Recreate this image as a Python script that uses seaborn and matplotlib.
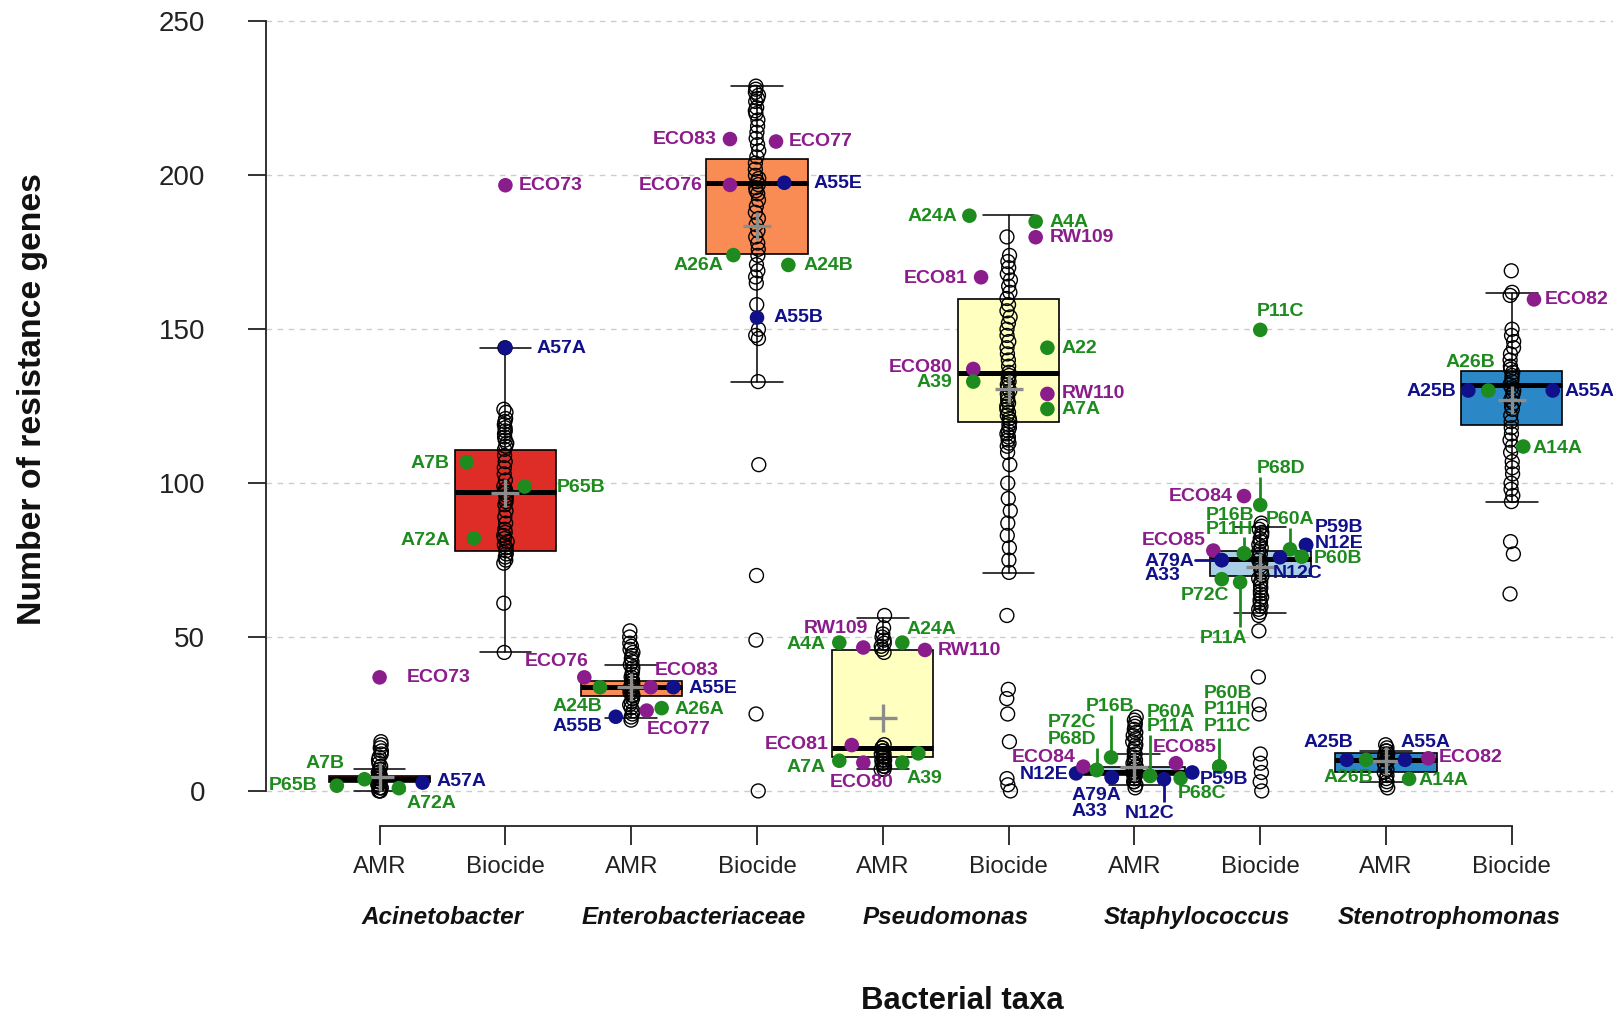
import numpy as np
import pandas as pd
import matplotlib
matplotlib.use("Agg")
import matplotlib.pyplot as plt
import seaborn as sns
from matplotlib.transforms import blended_transform_factory

# ---------------- data ----------------
taxa = ["Acinetobacter", "Enterobacteriaceae", "Pseudomonas", "Staphylococcus", "Stenotrophomonas"]
gene_sets = ["AMR", "Biocide"]
groups = [f"{t} {g}" for t in taxa for g in gene_sets]

box_q1 = [3, 78, 30.9, 174.5, 11.1, 120, 5.2, 69.9, 6.3, 118.9]
box_median = [4, 97, 33.7, 197.4, 14.1, 135.9, 6.0, 75.3, 10.1, 131.9]
box_q3 = [5, 110.9, 35.8, 205.4, 45.8, 159.8, 7.7, 77.8, 12.2, 136.5]
whisker_low = [0, 45.3, 23.8, 133, 7, 70.9, 2, 57.9, 3, 94]
whisker_high = [7, 144, 40.9, 229, 56.1, 187.1, 12, 85.9, 13, 161.9]
group_mean = [4.6, 96.7, 33.9, 183.7, 23.6, 130.6, 7.7, 72.9, 9.7, 127]

acin_amr = [0, 0, 0, 1, 1, 1, 2, 2, 2, 3, 3, 3, 3, 4, 4, 4, 4, 4, 5, 5, 5, 5, 6, 6, 7, 8, 9, 10, 11, 12, 13, 14, 15, 16]
acin_bio = [144, 124, 123, 121, 120, 119, 118, 117, 116, 115, 114, 113, 112, 111, 109, 107, 105, 103, 101, 99, 98,
            97, 97, 96, 95, 94, 93, 91, 89, 87, 85, 84, 83, 82, 81, 80, 79, 78, 77, 76, 75, 74, 61, 45]
entero_amr = [52, 50, 48, 47, 46, 45, 44, 43, 42, 41, 40, 39, 38, 37, 36, 36, 35, 35, 34, 34, 33, 33, 32, 32,
              31, 31, 30, 29, 28, 27, 26, 25, 24, 23]
entero_bio = [229, 228, 227, 226, 225, 224, 222, 221, 220, 218, 216, 214, 212, 210, 208, 206, 204, 202, 200, 199,
              198, 197, 196, 195, 194, 192, 190, 188, 186, 184, 182, 180, 178, 176, 174, 171, 169, 167, 165, 158,
              150, 148, 147, 133, 106, 70, 49, 25, 0]
pseudo_amr = [57, 53, 51, 50, 49, 48, 47, 46, 45, 15, 14, 14, 13, 13, 12, 12, 11, 11, 10, 10, 9, 9, 8, 8, 7, 7]
pseudo_bio = [180, 174, 172, 170, 168, 166, 164, 162, 160, 158, 156, 154, 152, 150, 148, 146, 144, 142, 140, 138,
              136, 135, 134, 133, 132, 131, 130, 129, 128, 127, 126, 125, 124, 123, 122, 121, 120, 119, 118, 117,
              116, 115, 114, 113, 112, 110, 106, 100, 95, 91, 87, 83, 79, 75, 71, 57, 33, 30, 25, 16, 4, 2, 0]
staph_amr = [24, 23, 22, 21, 20, 19, 18, 17, 16, 15, 14, 13, 12, 11, 10, 9, 9, 8, 8, 7, 7, 6, 6, 6, 5, 5, 5,
             4, 4, 3, 3, 2, 1]
staph_bio = [87, 86, 85, 84, 83, 82, 81, 80, 79, 78, 77, 76, 75, 74, 73, 72, 71, 70, 69, 68, 67, 66, 65, 64,
             63, 62, 61, 60, 59, 58, 57, 52, 37, 28, 25, 12, 9, 6, 3, 0]
steno_amr = [15, 14, 13, 13, 12, 12, 11, 11, 10, 10, 9, 8, 7, 6, 5, 4, 3, 2, 1]
steno_bio = [169, 162, 161, 150, 148, 146, 144, 142, 140, 138, 137, 136, 135, 134, 133, 132, 131, 130, 129, 128,
             127, 126, 125, 124, 122, 120, 118, 116, 114, 112, 110, 107, 105, 103, 100, 98, 96, 94, 81, 77, 64]
all_values = [acin_amr, acin_bio, entero_amr, entero_bio, pseudo_amr, pseudo_bio,
              staph_amr, staph_bio, steno_amr, steno_bio]

# highlighted genomes
iso_group = [0, 0, 0, 0, 0, 1, 1, 1, 1, 1,
             2, 2, 2, 2, 2, 2, 2, 3, 3, 3, 3, 3, 3, 3,
             4, 4, 4, 4, 4, 4, 4, 4, 4, 5, 5, 5, 5, 5, 5, 5, 5, 5,
             6, 6, 6, 6, 6, 6, 6, 6, 6, 6, 6, 6, 6, 6, 6, 6,
             7, 7, 7, 7, 7, 7, 7, 7, 7, 7, 7, 7, 7, 7, 7,
             8, 8, 8, 8, 8, 9, 9, 9, 9, 9]
iso_offset = [-0.12, -0.34, 0.153, 0.342, 0.0, 0.0, -0.308, 0.153, -0.25, 0.0,
              -0.373, -0.248, -0.123, 0.155, 0.335, 0.242, 0.123, -0.215, 0.151, -0.215, 0.217, -0.188, 0.249, 0.0,
              -0.346, -0.155, 0.155, 0.335, -0.247, -0.346, -0.155, 0.155, 0.282,
              -0.312, 0.215, 0.215, -0.219, 0.308, -0.281, -0.281, 0.308, 0.308,
              -0.464, -0.406, -0.30, -0.30, -0.186, -0.18, -0.18, 0.124, 0.124, 0.235, 0.33, 0.367, 0.46,
              0.675, 0.675, 0.675,
              0.0, 0.0, -0.129, -0.129, -0.129, -0.373, -0.306, -0.306, -0.306, -0.16, 0.237, 0.157, 0.364,
              0.364, 0.33,
              -0.312, -0.159, 0.151, 0.336, 0.183, 0.176, -0.187, -0.346, 0.325, 0.091]
iso_genes = [3.8, 1.7, 0.9, 2.7, 36.9, 144.0, 106.8, 98.9, 82.1, 196.8,
             36.9, 33.7, 24.1, 33.7, 33.7, 26.9, 26.1, 211.8, 211.0, 196.9, 197.6, 174.1, 170.9, 153.8,
             48.2, 46.6, 48.2, 45.8, 14.9, 9.8, 9.2, 9.2, 12.2,
             186.9, 185.0, 179.9, 166.9, 144.0, 137.1, 133.0, 129.0, 124.1,
             5.7, 7.9, 6.8, 6.8, 10.9, 4.4, 4.4, 4.9, 4.9, 3.8, 9.0, 4.1, 6.0, 7.9, 7.9, 7.9,
             149.8, 92.9, 95.8, 77.2, 77.2, 78.1, 75.0, 75.0, 68.8, 67.8, 78.5, 75.9, 79.9, 79.9, 76.1,
             10.1, 10.1, 10.1, 10.6, 3.9, 159.7, 130.1, 130.1, 130.1, 111.9]
iso_source = ["g", "g", "g", "b", "p", "b", "g", "g", "g", "p",
              "p", "g", "b", "p", "b", "g", "p", "p", "p", "p", "b", "g", "g", "b",
              "g", "p", "g", "p", "p", "g", "p", "g", "g",
              "g", "g", "p", "p", "g", "p", "g", "p", "g",
              "b", "p", "g", "g", "g", "b", "b", "g", "g", "b", "p", "g", "b", "g", "g", "g",
              "g", "g", "p", "g", "g", "p", "b", "b", "g", "g", "g", "b", "b", "b", "g",
              "b", "g", "b", "p", "g", "p", "g", "b", "b", "g"]
iso_name = ["A7B", "P65B", "A72A", "A57A", "ECO73", "A57A", "A7B", "P65B", "A72A", "ECO73",
            "ECO76", "A24B", "A55B", "ECO83", "A55E", "A26A", "ECO77",
            "ECO83", "ECO77", "ECO76", "A55E", "A26A", "A24B", "A55B",
            "A4A", "RW109", "A24A", "RW110", "ECO81", "A7A", "ECO80", "A39", "",
            "A24A", "A4A", "RW109", "ECO81", "A22", "ECO80", "A39", "RW110", "A7A",
            "N12E", "ECO84", "P72C", "P68D", "P16B", "A79A", "A33", "P60A", "P11A", "N12C", "ECO85",
            "P68C", "P59B", "P60B", "P11H", "P11C",
            "P11C", "P68D", "ECO84", "P16B", "P11H", "ECO85", "A79A", "A33", "P72C", "P11A", "P60A",
            "N12C", "P59B", "N12E", "P60B",
            "A25B", "A26B", "A55A", "ECO82", "A14A", "ECO82", "A26B", "A25B", "A55A", "A14A"]

# label placement (pixels, y downwards) -- style only
label_dx = [-20, -19, 8, 14, 27, 31, -17, 32, -24, 13,
            4, 2, -13, 4, 15, 13, 0, -13, 13, -27, 29, -10, 15, 16,
            -14, 5, 4, 13, -23, -14, -2, 4, 0,
            -12, 14, 14, -13, 14, -21, -21, 14, 14,
            -8, -8, 0, 0, -1, -40, -40, -3, -3, -14, -23, -3, 7, -16, -16, -16,
            -3, -3, -11, -38, -38, -8, -77, -77, -17, -17, 0, -7, 9, 9, 12,
            -18, 7, 20, 10, 9, 11, -18, -12, 12, 9]
label_dy = [-16, 0, 15, -1, 0, 1, 1, 1, 2, 0,
            -16, 19, 10, -17, 1, 1, 19, 0, 0, 1, 1, 10, 1, 0,
            2, -19, -13, 1, -1, 7, 20, 16, 0,
            1, 1, 0, 1, 1, -1, 1, 0, 1,
            1, -9, -47, -30, -51, 18, 34, -63, -49, 34, -16, 15, 7, -73, -57, -40,
            -18, -37, 0, -38, -24, -10, 1, 15, 16, 56, -30, 16, -18, -2, 2,
            -17, 18, -17, -1, 2, 0, -28, 1, 1, 2]
label_ha = ["right", "right", "left", "left", "left", "left", "right", "left", "right", "left",
            "right", "right", "right", "left", "left", "left", "left",
            "right", "left", "right", "left", "right", "left", "left",
            "right", "right", "left", "left", "right", "right", "center", "left", "left",
            "right", "left", "left", "right", "left", "right", "right", "left", "left",
            "right", "right", "right", "right", "center", "left", "left", "left", "left", "center", "left",
            "left", "left", "left", "left", "left",
            "left", "left", "right", "left", "left", "right", "left", "left", "center", "center", "center",
            "left", "left", "left", "left",
            "center", "right", "center", "left", "left", "left", "center", "right", "left", "left"]

# leader lines: group, offset, from value, to value
lead_group = [6, 6, 6, 6, 6, 7, 7, 7, 7]
lead_offset = [-0.30, -0.186, 0.124, 0.235, 0.675, 0.0, -0.129, -0.16, 0.237]
lead_from = [6.8, 10.9, 4.9, 3.8, 7.9, 92.9, 77.2, 67.8, 78.5]
lead_to = [13.9, 24.7, 18.2, -3.5, 17.1, 102.1, 82.6, 53.4, 85.3]
lead_source = ["g", "g", "g", "b", "g", "g", "g", "g", "g"]

# ---------------- style ----------------
taxon_colors = ["#DE2D26", "#F98C55", "#FFFFBF", "#A9CFE6", "#2B87C6"]
src_colors = {"p": "#8B1C8B", "g": "#1E8B1E", "b": "#10108A"}

sns.set_style("white")
plt.rcParams["font.family"] = ["Liberation Sans", "DejaVu Sans"]

fig = plt.figure(figsize=(16.13, 10.14), dpi=100)
ax = fig.add_axes([0.16491, 0.18570, 0.83509, 0.80069])

# boxes
stats = [dict(med=m, q1=a, q3=b, whislo=lo, whishi=hi, label="")
         for m, a, b, lo, hi in zip(box_median, box_q1, box_q3, whisker_low, whisker_high)]
bp = ax.bxp(stats, positions=list(range(len(groups))), widths=0.805, capwidths=0.41,
            patch_artist=True, showfliers=False, manage_ticks=False,
            boxprops=dict(edgecolor="black", linewidth=1.2),
            medianprops=dict(color="black", linewidth=3.6, solid_capstyle="butt"),
            whiskerprops=dict(color="black", linewidth=1.1),
            capprops=dict(color="black", linewidth=1.1), zorder=1.5)
for k, patch in enumerate(bp["boxes"]):
    patch.set_facecolor(taxon_colors[k // 2])

# all genomes as open circles
df = pd.DataFrame({"group": [g for g, vals in zip(groups, all_values) for _ in vals],
                   "genes": [v for vals in all_values for v in vals]})
np.random.seed(3)
n_before = len(ax.collections)
sns.stripplot(data=df, x="group", y="genes", order=groups, ax=ax, jitter=0.015,
              size=10, linewidth=1.0, edgecolor="black", color="black", zorder=2)
for coll in ax.collections[n_before:]:
    coll.set_facecolor("none")
    coll.set_edgecolor("black")
    coll.set_linewidth(1.0)
    coll.set_zorder(2)

# means
ax.scatter(range(len(groups)), group_mean, marker="+", s=400, c="#8C8C8C", linewidths=2.4, zorder=3)

# leader lines
for g, o, a, b, s in zip(lead_group, lead_offset, lead_from, lead_to, lead_source):
    ax.plot([g + o, g + o], [a, b], color=src_colors[s], lw=2.0, zorder=3.5, solid_capstyle="butt")
ax.plot([7 - 0.306, 7 - 0.52], [75.0, 75.0], color=src_colors["b"], lw=2.0, zorder=3.5)

# highlighted genomes
iso = pd.DataFrame({"x": [g + o for g, o in zip(iso_group, iso_offset)], "genes": iso_genes,
                    "source": iso_source, "name": iso_name})
sns.scatterplot(data=iso, x="x", y="genes", hue="source", palette=src_colors, s=110,
                linewidth=0, legend=False, ax=ax, zorder=4)
for x, y, s, name, dx, dy, ha in zip(iso["x"], iso_genes, iso_source, iso_name, label_dx, label_dy, label_ha):
    if name:
        ax.annotate(name, (x, y), xytext=(dx, -dy), textcoords="offset pixels", ha=ha, va="center",
                    color=src_colors[s], fontsize=14, fontweight="bold", zorder=5, annotation_clip=False)

# axes
ax.set_xlim(-0.903, 9.804)
ax.set_ylim(-11.3, 252.5)
ax.set_yticks([0, 50, 100, 150, 200, 250])
ax.set_yticklabels(["0", "50", "100", "150", "200", "250"])
ax.set_xticks(range(len(groups)))
ax.set_xticklabels([g for _ in taxa for g in gene_sets])
ax.yaxis.grid(True, linestyle=(0, (4, 4)), color="#CCCCCC", lw=1.0)
ax.xaxis.grid(False)
ax.set_axisbelow(True)
for side in ["top", "right"]:
    ax.spines[side].set_visible(False)
ax.spines["left"].set_bounds(0, 250)
ax.spines["bottom"].set_bounds(0, 9)
for side in ["left", "bottom"]:
    ax.spines[side].set_linewidth(1.3)
    ax.spines[side].set_color("#222222")
ax.tick_params(axis="y", length=13, width=1.3, pad=31, labelsize=20, colors="#222222", left=True)
ax.tick_params(axis="x", length=13.4, width=1.3, pad=8.4, labelsize=17.3, colors="#222222", bottom=True)
ax.set_xlabel("")
ax.set_ylabel("")

tr = blended_transform_factory(ax.transData, fig.transFigure)
for k, t in enumerate(taxa):
    ax.text(2 * k + 0.5, 0.0890, t, transform=tr, ha="center", va="baseline", fontsize=17.5,
            fontweight="bold", fontstyle="italic", color="#111111")
fig.text(0.5964, 0.0049, "Bacterial taxa", ha="center", va="baseline", fontsize=22.4,
         fontweight="bold", color="#111111")
fig.text(0.0204, 0.6065, "Number of resistance genes", rotation=90, ha="center", va="center",
         fontsize=24.3, fontweight="bold", color="#111111")

fig.savefig("out.png", dpi=100)
